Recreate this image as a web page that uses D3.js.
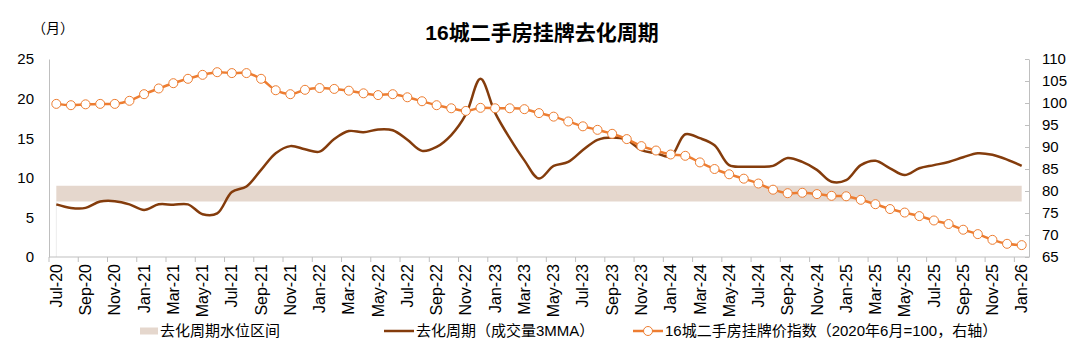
<!DOCTYPE html>
<html>
<head>
<meta charset="utf-8">
<script src="https://cdn.jsdelivr.net/npm/d3@7"></script>
<style>
  html, body { margin: 0; padding: 0; background: #fff; }
  svg { display: block; }
  text { font-family: "Liberation Sans", "Noto Sans CJK SC", Arial, sans-serif; fill: #000; }
</style>
</head>
<body>
<div id="chart"></div>
<script>
// ---------------- data ----------------
const months = [
  "Jul-20","Aug-20","Sep-20","Oct-20","Nov-20","Dec-20",
  "Jan-21","Feb-21","Mar-21","Apr-21","May-21","Jun-21","Jul-21","Aug-21","Sep-21","Oct-21","Nov-21","Dec-21",
  "Jan-22","Feb-22","Mar-22","Apr-22","May-22","Jun-22","Jul-22","Aug-22","Sep-22","Oct-22","Nov-22","Dec-22",
  "Jan-23","Feb-23","Mar-23","Apr-23","May-23","Jun-23","Jul-23","Aug-23","Sep-23","Oct-23","Nov-23","Dec-23",
  "Jan-24","Feb-24","Mar-24","Apr-24","May-24","Jun-24","Jul-24","Aug-24","Sep-24","Oct-24","Nov-24","Dec-24",
  "Jan-25","Feb-25","Mar-25","Apr-25","May-25","Jun-25","Jul-25","Aug-25","Sep-25","Oct-25","Nov-25","Dec-25",
  "Jan-26"
];
// 去化周期（成交量3MMA），月，左轴
const cycleMonths = [
  6.65, 6.2, 6.2, 7.0, 7.05, 6.65,
  5.95, 6.65, 6.6, 6.65, 5.4, 5.5, 8.2, 8.9, 11.0, 13.1, 14.0, 13.6,
  13.3, 14.9, 15.9, 15.75, 16.1, 16.0, 14.8, 13.4, 13.9, 15.4, 18.0, 22.5,
  18.2, 15.0, 12.2, 9.9, 11.5, 12.0, 13.5, 14.8, 15.1, 14.8, 13.5, 13.1,
  12.7, 15.5, 15.0, 14.1, 11.6, 11.4, 11.4, 11.5, 12.5, 12.0, 11.0, 9.5,
  9.7, 11.6, 12.15, 11.2, 10.35, 11.2, 11.6, 12.0, 12.6, 13.1, 12.9, 12.3,
  11.5
];
// 16城二手房挂牌价指数（2020年6月=100），右轴
const listingIndex = [
  99.8, 99.5, 99.7, 99.8, 99.8, 100.5,
  102.0, 103.3, 104.5, 105.5, 106.4, 107.0, 106.8, 106.8, 105.5, 102.9, 102.0, 103.0,
  103.4, 103.2, 102.8, 102.2, 101.8, 102.0, 101.3, 100.4, 99.5, 98.8, 98.2, 98.9,
  98.8, 98.8, 98.6, 97.7, 96.9, 95.8, 94.7, 93.9, 93.0, 91.8, 90.2, 89.2,
  88.3, 88.0, 86.5, 85.0, 83.8, 82.8, 81.7, 80.3, 79.5, 79.6, 79.3, 78.9,
  78.8, 78.0, 77.0, 75.9, 75.1, 74.3, 73.3, 72.5, 71.2, 70.2, 68.9, 68.0,
  67.7
];
// 去化周期水位区间 (low, high)
const bandRange = [7, 9];
const leftTicks = [0, 5, 10, 15, 20, 25];
const rightTicks = [65, 70, 75, 80, 85, 90, 95, 100, 105, 110];
const labelMonths = months.filter((m, i) => i % 2 === 0);

const title = "16城二手房挂牌去化周期";
const unitLabel = "（月）";
const legendNames = ["去化周期水位区间", "去化周期（成交量3MMA）", "16城二手房挂牌价指数（2020年6月=100，右轴）"];

// ---------------- styles ----------------
const W = 1080, H = 355;
const C_BAND = "#e5d7cd";
const C_BROWN = "#843c0c";
const C_ORANGE = "#ed7d31";
const C_AXIS = "#bfbfbf";
const LATIN = '"Liberation Sans", Arial, sans-serif';

const svg = d3.select("#chart").append("svg")
  .attr("width", W).attr("height", H).attr("viewBox", `0 0 ${W} ${H}`);
svg.append("rect").attr("width", W).attr("height", H).attr("fill", "#fff");

const x = d3.scaleBand().domain(months).range([49, 1029]).paddingInner(0).paddingOuter(0);
const cx = d => x(d) + x.bandwidth() / 2;
const yL = d3.scaleLinear().domain([0, 25]).range([257, 59]);
const yR = d3.scaleLinear().domain([65, 110]).range([257, 59]);

// title
svg.append("text").attr("x", 542).attr("y", 40).attr("text-anchor", "middle")
  .attr("font-size", 21).attr("font-weight", "bold").text(title);
svg.append("text").attr("x", 53).attr("y", 33).attr("text-anchor", "middle")
  .attr("font-size", 14).text(unitLabel);

// band (area across all categories)
const bandArea = d3.area()
  .x(d => cx(d))
  .y0(() => yL(bandRange[0]))
  .y1(() => yL(bandRange[1]));
svg.append("path").datum(months).attr("d", bandArea).attr("fill", C_BAND);
// faint edge of the lower (invisible) stacked part
svg.append("line")
  .attr("x1", cx(months[0])).attr("x2", cx(months[0]))
  .attr("y1", yL(0)).attr("y2", yL(bandRange[0]))
  .attr("stroke", "#ececec").attr("stroke-width", 1);

// axes
const gL = svg.append("g").attr("transform", `translate(49,0)`)
  .call(d3.axisLeft(yL).tickValues(leftTicks).tickSize(0).tickPadding(15).tickFormat(d3.format("d")));
gL.select(".domain").attr("stroke", C_AXIS);
gL.selectAll("text").attr("font-size", 15).style("font-family", LATIN);

const gR = svg.append("g").attr("transform", `translate(1029,0)`)
  .call(d3.axisRight(yR).tickValues(rightTicks).tickSizeInner(-4).tickSizeOuter(0).tickPadding(13).tickFormat(d3.format("d")));
gR.select(".domain").attr("stroke", C_AXIS);
gR.selectAll(".tick line").attr("stroke", C_AXIS);
gR.selectAll("text").attr("font-size", 15).style("font-family", LATIN);

// x axis
const gX = svg.append("g").attr("transform", `translate(0,257)`);
gX.append("line").attr("x1", 49).attr("x2", 1029).attr("y1", 0).attr("y2", 0).attr("stroke", C_AXIS);
gX.selectAll("line.tk").data(labelMonths).enter().append("line").attr("class", "tk")
  .attr("x1", d => x(d)).attr("x2", d => x(d)).attr("y1", 0).attr("y2", 5).attr("stroke", C_AXIS);
gX.selectAll("text").data(labelMonths).enter().append("text")
  .attr("transform", d => `translate(${cx(d)},7) rotate(-90)`)
  .attr("text-anchor", "end").attr("dy", "0.35em").attr("font-size", 16)
  .style("font-family", LATIN)
  .text(d => d);

// brown line
const brownLine = d3.line().x((d, i) => cx(months[i])).y(d => yL(d)).curve(d3.curveCatmullRom.alpha(0.5));
svg.append("path").datum(cycleMonths).attr("d", brownLine)
  .attr("fill", "none").attr("stroke", C_BROWN).attr("stroke-width", 2.5);

// orange line with markers
const orangeLine = d3.line().x((d, i) => cx(months[i])).y(d => yR(d)).curve(d3.curveCatmullRom.alpha(0.5));
svg.append("path").datum(listingIndex).attr("d", orangeLine)
  .attr("fill", "none").attr("stroke", C_ORANGE).attr("stroke-width", 2.5);
svg.selectAll("circle.mk").data(listingIndex).enter().append("circle").attr("class", "mk")
  .attr("cx", (d, i) => cx(months[i])).attr("cy", d => yR(d)).attr("r", 4.5)
  .attr("fill", "#fff").attr("stroke", C_ORANGE).attr("stroke-width", 1);

// legend
const LY = 331;
const lg = svg.append("g");
lg.append("rect").attr("x", 140).attr("y", LY - 3.5).attr("width", 18).attr("height", 7).attr("fill", C_BAND);
lg.append("text").attr("x", 160).attr("y", LY).attr("dy", "0.35em").attr("font-size", 15).text(legendNames[0]);
lg.append("line").attr("x1", 384).attr("x2", 414).attr("y1", LY).attr("y2", LY).attr("stroke", C_BROWN).attr("stroke-width", 2.5);
lg.append("text").attr("x", 416).attr("y", LY).attr("dy", "0.35em").attr("font-size", 15).text(legendNames[1]);
lg.append("line").attr("x1", 633).attr("x2", 663).attr("y1", LY).attr("y2", LY).attr("stroke", C_ORANGE).attr("stroke-width", 2.5);
lg.append("circle").attr("cx", 648).attr("cy", LY).attr("r", 4.5).attr("fill", "#fff").attr("stroke", C_ORANGE).attr("stroke-width", 1);
lg.append("text").attr("x", 665).attr("y", LY).attr("dy", "0.35em").attr("font-size", 15).text(legendNames[2]);
</script>
</body>
</html>
